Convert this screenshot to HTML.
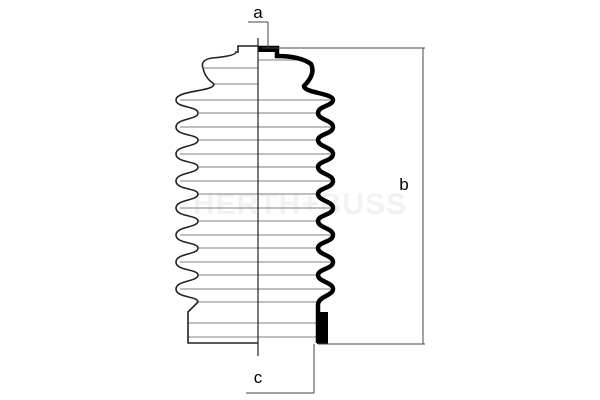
<!DOCTYPE html><html><head><style>body{margin:0;background:#fff}svg{display:block}</style></head><body>
<svg width="600" height="400" viewBox="0 0 600 400" xmlns="http://www.w3.org/2000/svg" font-family="Liberation Sans, sans-serif">
<text x="300" y="214" font-size="30" font-weight="bold" fill="#f2f2f2" text-anchor="middle" letter-spacing="1">HERTH+BUSS</text>
<g stroke="#999" stroke-width="1.2">
<line x1="204" y1="68" x2="258" y2="68"/><line x1="214" y1="84" x2="258" y2="84"/>
<line x1="180" y1="100" x2="330" y2="100"/><line x1="199" y1="113" x2="318" y2="113"/>
<line x1="180" y1="127" x2="330" y2="127"/><line x1="199" y1="140" x2="318" y2="140"/>
<line x1="180" y1="154" x2="330" y2="154"/><line x1="199" y1="167" x2="318" y2="167"/>
<line x1="180" y1="181" x2="330" y2="181"/><line x1="199" y1="194" x2="318" y2="194"/>
<line x1="180" y1="208" x2="330" y2="208"/><line x1="199" y1="221" x2="318" y2="221"/>
<line x1="180" y1="235" x2="330" y2="235"/><line x1="199" y1="248" x2="318" y2="248"/>
<line x1="180" y1="262" x2="330" y2="262"/><line x1="199" y1="275" x2="318" y2="275"/>
<line x1="180" y1="289" x2="330" y2="289"/><line x1="199" y1="302" x2="318" y2="302"/>
<line x1="188" y1="323" x2="318" y2="323"/><line x1="188" y1="337" x2="318" y2="337"/>
<line x1="258" y1="60" x2="300" y2="60"/>
</g>
<path d="M258,46 L238,46 L238,52 L236,52 Q236,56 212,58 Q200,60 203,68 Q205,78 214,84 C214,92 176,90 176,100 C176,108 198,106 198,113 C198,120 176,118 176,127 C176,136 198,134 198,140 C198,147 176,145 176,154 C176,163 198,161 198,167 C198,174 176,172 176,181 C176,190 198,188 198,194 C198,201 176,199 176,208 C176,217 198,215 198,221 C198,228 176,226 176,235 C176,244 198,242 198,248 C198,255 176,253 176,262 C176,271 198,269 198,275 C198,282 176,280 176,289 C176,298 198,296 198,302 L188,312 L188,343 L258,343" fill="none" stroke="#222" stroke-width="1.6"/>
<path d="M258,48 L277,48 L277,56 Q300,56 311,64 Q316,74 304,86 C304,93 333,93 333,100 C333,106 318,106 318,113 C318,120 333,120 333,127 C333,134 318,134 318,140 C318,147 333,147 333,154 C333,161 318,161 318,167 C318,174 333,174 333,181 C333,188 318,188 318,194 C318,201 333,201 333,208 C333,215 318,215 318,221 C318,228 333,228 333,235 C333,242 318,242 318,248 C318,255 333,255 333,262 C333,269 318,269 318,275 C318,282 333,282 333,289 C333,296 318,296 318,305 L318,343" fill="none" stroke="#000" stroke-width="4.5"/>
<rect x="258" y="46" width="20" height="6" fill="#000"/>
<rect x="317" y="312" width="11" height="32" fill="#000"/>
<line x1="258" y1="38" x2="258" y2="356" stroke="#222" stroke-width="1.2"/>
<g stroke="#444" stroke-width="1">
<line x1="262" y1="48" x2="425" y2="48"/><line x1="318" y1="344" x2="425" y2="344"/>
<line x1="423" y1="48" x2="423" y2="344"/>
<line x1="248" y1="22" x2="268" y2="22"/><line x1="268" y1="22" x2="268" y2="48"/>
<line x1="246" y1="393" x2="314" y2="393"/><line x1="314" y1="344" x2="314" y2="393"/>
</g>
<text x="258" y="18" font-size="17" text-anchor="middle">a</text>
<text x="404" y="190" font-size="17" text-anchor="middle">b</text>
<text x="258" y="383" font-size="17" text-anchor="middle">c</text>
</svg></body></html>
